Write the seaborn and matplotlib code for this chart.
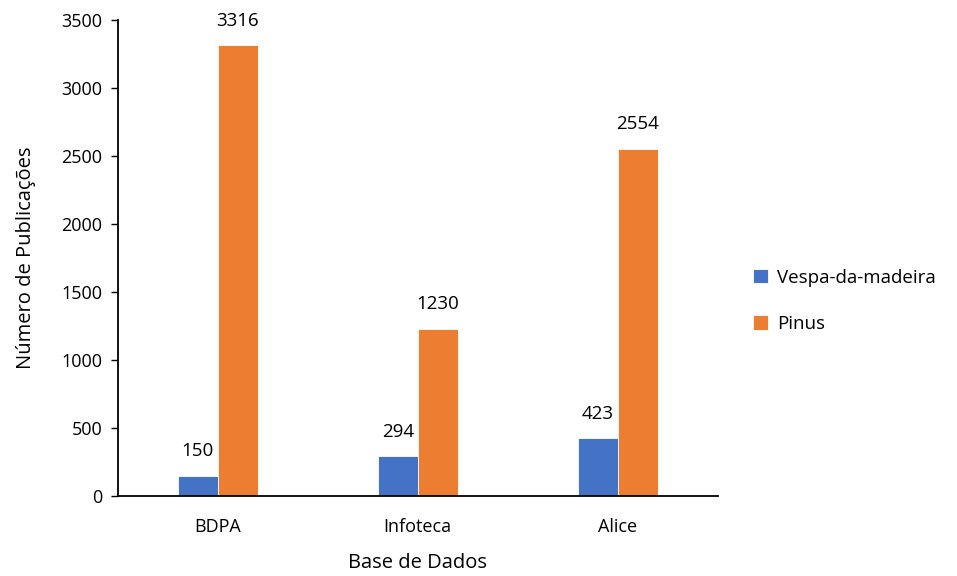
import matplotlib
matplotlib.use("Agg")
import matplotlib.pyplot as plt
import seaborn as sns
import pandas as pd

categories = ["BDPA", "Infoteca", "Alice"]
series_names = ["Vespa-da-madeira", "Pinus"]
vespa = [150, 294, 423]
pinus = [3316, 1230, 2554]
yticks = [0, 500, 1000, 1500, 2000, 2500, 3000, 3500]

df = pd.DataFrame({
    "Base": categories * 2,
    "Serie": [series_names[0]] * 3 + [series_names[1]] * 3,
    "Valor": vespa + pinus,
})

sns.set_theme(style="white")
plt.rcParams["font.family"] = ["Open Sans", "DejaVu Sans"]
plt.rcParams["text.color"] = "black"
plt.rcParams["axes.labelcolor"] = "black"
plt.rcParams["xtick.color"] = "black"
plt.rcParams["ytick.color"] = "black"

fig = plt.figure(figsize=(9.57, 5.76), dpi=100)
ax = fig.add_axes([0.123, 0.139, 0.627, 0.826])
sns.barplot(data=df, x="Base", y="Valor", hue="Serie", order=categories,
            hue_order=series_names, palette=["#4472C4", "#ED7D31"],
            saturation=1, width=0.4, edgecolor="white", linewidth=0.6, ax=ax)

for cont in ax.containers:
    ax.bar_label(cont, fmt="%d", padding=11, fontsize=13.5, color="black")

ax.set_ylim(0, 3500)
ax.set_yticks(yticks)
ax.set_xlim(-0.5, 2.5)
ax.tick_params(axis="y", left=True, length=5, width=1, color="black", labelsize=13, pad=6)
ax.tick_params(axis="x", bottom=False, labelsize=13, pad=10)
for s in ["top", "right"]:
    ax.spines[s].set_visible(False)
for s in ["left", "bottom"]:
    ax.spines[s].set_color("black")
    ax.spines[s].set_linewidth(1.3)

ax.set_xlabel("Base de Dados", fontsize=14.5, labelpad=12)
ax.set_ylabel("Número de Publicações", fontsize=14.5, labelpad=18)

leg = ax.legend(loc="center left", bbox_to_anchor=(1.03, 0.41), frameon=False,
                fontsize=13.5, handlelength=0.8, handleheight=0.8,
                handletextpad=0.5, labelspacing=1.5)

fig.savefig("out.png", dpi=100)
